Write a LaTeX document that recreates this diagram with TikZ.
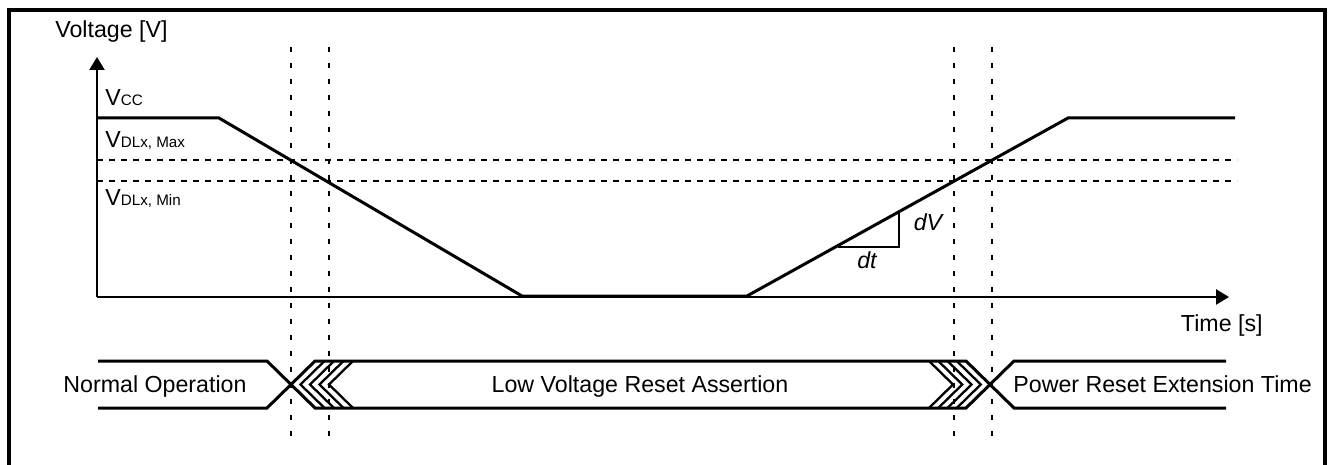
\documentclass[tikz,border=0pt]{standalone}
\usepackage{fontspec}
\setmainfont{Liberation Sans}
\usetikzlibrary{arrows.meta}
\begin{document}
\begin{tikzpicture}[x=0.5pt,y=-0.5pt,
  frame/.style={line width=2pt},
  axis/.style={line width=1.2pt,-{Triangle[length=6.5pt,width=7.5pt]}},
  wave/.style={line width=1.5pt,line join=miter},
  guideh/.style={line width=1pt,dash pattern=on 3pt off 3pt},
  guidev/.style={line width=1pt,dash pattern=on 2.5pt off 5.5pt},
  bus/.style={line width=1.5pt},
  chev/.style={line width=1.15pt},
  tri/.style={line width=1pt},
  lbl/.style={inner sep=0pt,font=\fontsize{11.6}{14}\selectfont},
  lblit/.style={lbl,font=\fontsize{11.6}{14}\selectfont\itshape}
]
\useasboundingbox (0,0) rectangle (1332,465);
% frame
\draw[frame] (8.5,470) -- (8.5,10) -- (1325,10) -- (1325,470);
% axes
\coordinate (O) at (97,297);
\coordinate (ytip) at (97,57);
\coordinate (xtip) at (1229,297);
\draw[axis] (O) -- (ytip);
\draw[axis] (O) -- (xtip);
% guide lines
\coordinate (hmaxL) at (97,160); \coordinate (hmaxR) at (1237,160);
\coordinate (hminL) at (97,181); \coordinate (hminR) at (1237,181);
\draw[guideh] (hmaxL) -- (hmaxR);
\draw[guideh] (hminL) -- (hminR);
\foreach \x/\n in {291/a,329/b,954/c,992/d}{
  \coordinate (v\n t) at (\x,47);
  \coordinate (v\n b) at (\x,437);
  \draw[guidev] (v\n t) -- (v\n b);
}
% voltage waveform
\coordinate (w0) at (97,118);
\coordinate (w1) at (219,118);
\coordinate (w2) at (522,296);
\coordinate (w3) at (747,296);
\coordinate (w4) at (1068,118);
\coordinate (w5) at (1235,118);
\draw[wave] (w0) -- (w1) -- (w2) -- (w3) -- (w4) -- (w5);
% slope triangle
\coordinate (t0) at (838,247);
\coordinate (t1) at (899,247);
\coordinate (t2) at (899,213);
\draw[tri] (t0) -- (t1) -- (t2);
\node[lblit] (dv) at (928,222) {dV};
\node[lblit] (dt) at (867,260) {dt};
% labels
\node[lbl,anchor=base west] (ylabel) at (55,38) {Voltage [V]};
\node[lbl,anchor=base east] (xlabel) at (1263,331) {Time [s]};
\node[lbl,anchor=base west] (vcc) at (105,105) {V{\fontsize{7.6}{9}\selectfont CC}};
\node[lbl,anchor=base west] (vmax) at (105,148) {V{\fontsize{7.6}{9}\selectfont DLx, Max}};
\node[lbl,anchor=base west] (vmin) at (105,205) {V{\fontsize{7.6}{9}\selectfont DLx, Min}};
% bus
\coordinate (n0t) at (98,361);  \coordinate (n0b) at (98,408);
\coordinate (n1t) at (267,361); \coordinate (n1b) at (267,408);
\coordinate (m0t) at (315,361); \coordinate (m0b) at (315,408);
\coordinate (m1t) at (966,361); \coordinate (m1b) at (966,408);
\coordinate (p0t) at (1014,361); \coordinate (p0b) at (1014,408);
\coordinate (p1t) at (1226,361); \coordinate (p1b) at (1226,408);
\draw[bus] (n0t) -- (n1t) -- (m0b) -- (m1b) -- (p0t) -- (p1t);
\draw[bus] (n0b) -- (n1b) -- (m0t) -- (m1t) -- (p0b) -- (p1b);
\foreach \k in {1,...,4}{
  \draw[chev] ({315+9.5*\k},361) -- ({291+9.5*\k},384.5) -- ({315+9.5*\k},408);
}
\foreach \k in {0,...,3}{
  \draw[chev] ({929+9.25*\k},361) -- ({953+9.25*\k},384.5) -- ({929+9.25*\k},408);
}
\node[lbl,anchor=base] (normal) at (155,392) {Normal Operation};
\node[lbl,anchor=base] (lowv) at (640,392) {Low Voltage Reset Assertion};
\node[lbl,anchor=base west] (power) at (1013,392) {Power Reset Extension Time};
\end{tikzpicture}
\end{document}
